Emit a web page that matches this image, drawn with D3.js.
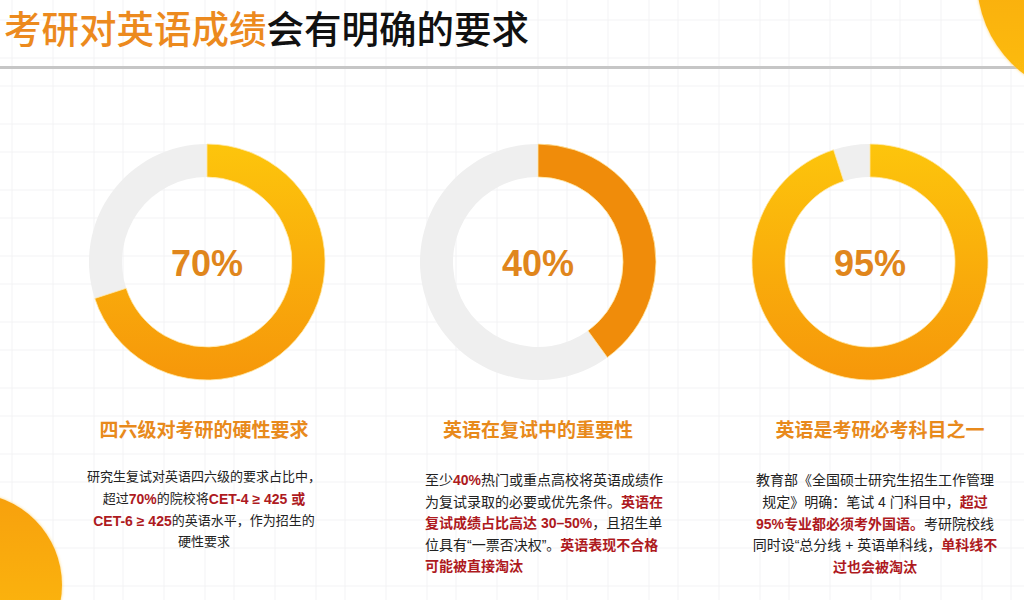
<!DOCTYPE html>
<html>
<head>
<meta charset="utf-8">
<script src="https://cdn.jsdelivr.net/npm/d3@7"></script>
<style>
  html, body { margin: 0; padding: 0; background: #fff; }
  svg { display: block; font-family: "Noto Sans CJK SC", "Noto Sans", sans-serif; }
</style>
</head>
<body>
<div id="chart"></div>
<script>
// ---- data ----
const percents = [70, 40, 95];
const fills = ["grad", "flat", "grad"];
const headings = ["四六级对考研的硬性要求", "英语在复试中的重要性", "英语是考研必考科目之一"];
const titleOrange = "考研对英语成绩";
const titleBlack = "会有明确的要求";

// each line is a list of [text, highlighted]
const leftLines = [
    [["研究生复试对英语四六级的要求占比中，", false]],
    [["超过", false], ["70%", true], ["的院校将", false], ["CET-4 ≥ 425 或", true]],
    [["CET-6 ≥ 425", true], ["的英语水平，作为招生的", false]],
    [["硬性要求", false]]
];
const midLines = [
    [["至少", false], ["40%", true], ["热门或重点高校将英语成绩作", false]],
    [["为复试录取的必要或优先条件。", false], ["英语在", true]],
    [["复试成绩占比高达 30–50%", true], ["，且招生单", false]],
    [["位具有“一票否决权”。", false], ["英语表现不合格", true]],
    [["可能被直接淘汰", true]]
];
const rightLines = [
    [["教育部《全国硕士研究生招生工作管理", false]],
    [["规定》明确：笔试 4 门科目中，", false], ["超过", true]],
    [["95%专业都必须考外国语。", true], ["考研院校线", false]],
    [["同时设“总分线 + 英语单科线，", false], ["单科线不", true]],
    [["过也会被淘汰", true]]
];
const bodies = [leftLines, midLines, rightLines];

// ---- layout ----
const width = 1024, height = 600;
const centers = [207, 538, 870];
const cy = 262;
const rOuter = 118, rInner = 85;
const latinFirst = "'Liberation Sans', 'Noto Sans CJK SC', sans-serif";

const svg = d3.select("#chart").append("svg")
    .attr("width", width)
    .attr("height", height);

const defs = svg.append("defs");
const grad = defs.append("linearGradient")
    .attr("id", "ringGrad").attr("x1", 0).attr("y1", 0).attr("x2", 0).attr("y2", 1);
grad.append("stop").attr("offset", "0%").attr("stop-color", "#FDC50C");
grad.append("stop").attr("offset", "100%").attr("stop-color", "#F6970A");

const cornerGrad = defs.append("linearGradient")
    .attr("id", "cornerGrad").attr("x1", 0).attr("y1", 0).attr("x2", 0).attr("y2", 1);
cornerGrad.append("stop").attr("offset", "0%").attr("stop-color", "#F7A00C");
cornerGrad.append("stop").attr("offset", "100%").attr("stop-color", "#FDBE12");

const glow = defs.append("filter").attr("id", "glow")
    .attr("x", "-20%").attr("y", "-20%").attr("width", "140%").attr("height", "140%");
glow.append("feDropShadow").attr("dx", 0).attr("dy", 0)
    .attr("stdDeviation", 1.5).attr("flood-color", "#FFD060").attr("flood-opacity", 0.9);

// faint sketchy grid in the background
const bg = svg.append("g").attr("stroke", "#e9e9ec").attr("stroke-width", 1).attr("opacity", 0.55);
d3.range(12, width, 37).forEach((x, i) => {
    bg.append("line").attr("x1", x + (i % 3) * 4).attr("x2", x + (i % 3) * 4)
        .attr("y1", 0).attr("y2", height);
});
d3.range(20, height, 33).forEach((y, i) => {
    bg.append("line").attr("y1", y + (i % 2) * 5).attr("y2", y + (i % 2) * 5)
        .attr("x1", 0).attr("x2", width);
});

// separator under the title
svg.append("rect")
    .attr("x", 0).attr("y", 66).attr("width", width).attr("height", 3)
    .attr("fill", "#c6c6c6");

// corner blobs
svg.append("circle").attr("cx", 1095).attr("cy", -20).attr("r", 118)
    .attr("fill", "url(#cornerGrad)").attr("filter", "url(#glow)");
svg.append("circle").attr("cx", -30).attr("cy", 585).attr("r", 92)
    .attr("fill", "url(#cornerGrad)").attr("filter", "url(#glow)");

// title
const title = svg.append("text")
    .attr("x", 4).attr("y", 43)
    .attr("font-size", 37.5).attr("font-weight", 500);
title.append("tspan").attr("fill", "#EC8A1E").text(titleOrange);
title.append("tspan").attr("fill", "#111").text(titleBlack);

// donuts
const scale = d3.scaleLinear().domain([0, 100]).range([0, 2 * Math.PI]);
const arc = d3.arc().innerRadius(rInner).outerRadius(rOuter);

percents.forEach((p, i) => {
    const g = svg.append("g").attr("transform", `translate(${centers[i]},${cy})`);
    g.append("path")
        .attr("d", arc({ startAngle: scale(p), endAngle: scale(100) }))
        .attr("fill", "#efefef");
    g.append("path")
        .attr("d", arc({ startAngle: scale(0), endAngle: scale(p) }))
        .attr("fill", fills[i] === "grad" ? "url(#ringGrad)" : "#F08C0A")
        .attr("stroke", "#FFE9A8").attr("stroke-width", 0.8);
    g.append("text")
        .attr("y", 4)
        .attr("text-anchor", "middle")
        .attr("dominant-baseline", "middle")
        .style("font-family", latinFirst)
        .attr("font-size", 36).attr("font-weight", 700)
        .attr("fill", "#E0861C")
        .text(`${p}%`);
});

// headings
const headY = [432, 432, 432];
const headX = [204, 538, 880];
headings.forEach((h, i) => {
    svg.append("text")
        .attr("x", headX[i]).attr("y", headY[i])
        .attr("text-anchor", "middle")
        .attr("dominant-baseline", "middle")
        .attr("font-size", 19).attr("font-weight", 700)
        .attr("fill", "#E88A1C")
        .text(h);
});

// body paragraphs
const bodyCfg = [
    { x: 204, anchor: "middle", size: 13, hiSize: 14, y0: 478, step: 21.8 },
    { x: 425, anchor: "start", size: 14, hiSize: 14, y0: 481, step: 21.6 },
    { x: 875, anchor: "middle", size: 14, hiSize: 14, y0: 481, step: 21.8 }
];
bodies.forEach((lines, i) => {
    const cfg = bodyCfg[i];
    lines.forEach((segs, j) => {
        const t = svg.append("text")
            .attr("x", cfg.x).attr("y", cfg.y0 + j * cfg.step)
            .attr("text-anchor", cfg.anchor)
            .attr("dominant-baseline", "middle")
            .style("font-family", latinFirst)
            .attr("font-size", cfg.size);
        segs.forEach(([txt, hi]) => {
            t.append("tspan")
                .attr("fill", hi ? "#AE1A1E" : "#222")
                .attr("font-weight", hi ? 700 : 400)
                .attr("font-size", hi ? cfg.hiSize : cfg.size)
                .text(txt);
        });
    });
});
</script>
</body>
</html>
